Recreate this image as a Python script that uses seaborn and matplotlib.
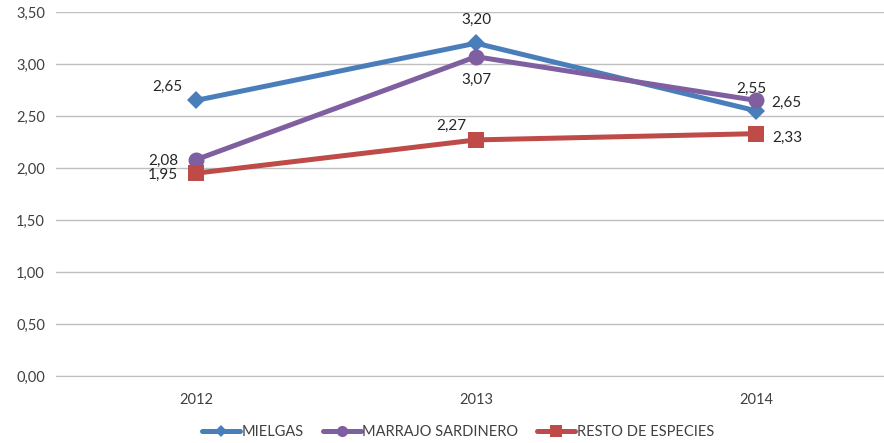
import matplotlib
matplotlib.use("Agg")
import matplotlib.pyplot as plt
import seaborn as sns
import pandas as pd
from matplotlib.ticker import FuncFormatter, MultipleLocator
from matplotlib.lines import Line2D

years = ["2012", "2013", "2014"]
mielgas = [2.65, 3.20, 2.55]
marrajo = [2.08, 3.07, 2.65]
resto = [1.95, 2.27, 2.33]
series_names = ["MIELGAS", "MARRAJO SARDINERO", "RESTO DE ESPECIES"]

df = pd.DataFrame({
    "year": years * 3,
    "value": mielgas + marrajo + resto,
    "series": [series_names[0]] * 3 + [series_names[1]] * 3 + [series_names[2]] * 3,
})

sns.set_style("white")
plt.rcParams["font.family"] = ["Lato", "DejaVu Sans"]

colors = {"MIELGAS": "#4A7EBB", "MARRAJO SARDINERO": "#7F5FA0", "RESTO DE ESPECIES": "#BE4B48"}
markers = {"MIELGAS": "D", "MARRAJO SARDINERO": "o", "RESTO DE ESPECIES": "s"}
msizes = {"MIELGAS": 9.5, "MARRAJO SARDINERO": 11.5, "RESTO DE ESPECIES": 12}

fig = plt.figure(figsize=(8.84, 4.43), dpi=100)
ax = fig.add_axes([56 / 884, (443 - 376) / 443, (884 - 56) / 884, (376 - 12) / 443])

sns.lineplot(data=df, x="year", y="value", hue="series", style="series",
             palette=colors, markers=markers, dashes=False, linewidth=3.6,
             markeredgewidth=0, ax=ax, sort=False, legend=False)
for i, line in enumerate(ax.lines[:3]):
    line.set_markersize(msizes[series_names[i]])

ax.set_xlim(-0.5, 2.457)
ax.set_ylim(0, 3.5)
ax.yaxis.set_major_locator(MultipleLocator(0.5))
ax.yaxis.set_major_formatter(FuncFormatter(lambda v, p: f"{v:.2f}".replace(".", ",")))
ax.grid(axis="y", color="#BFBFBF", linewidth=1)
ax.set_axisbelow(True)
for s in ["top", "right", "left"]:
    ax.spines[s].set_visible(False)
ax.spines["bottom"].set_color("#BFBFBF")
ax.set_xlabel("")
ax.set_ylabel("")
ax.tick_params(axis="both", length=0, labelsize=10.5, colors="#404040", pad=8)
ax.tick_params(axis="x", pad=12)

def fmt(v):
    return f"{v:.2f}".replace(".", ",")

offsets = {
    "MIELGAS": [(-29, 14), (0, 23), (-5, 22)],
    "MARRAJO SARDINERO": [(-33, -1), (0, -23), (30, -2)],
    "RESTO DE ESPECIES": [(-33, -2), (-25, 14), (31, -4)],
}
vals = {"MIELGAS": mielgas, "MARRAJO SARDINERO": marrajo, "RESTO DE ESPECIES": resto}
for name in series_names:
    for i, v in enumerate(vals[name]):
        dx, dy = offsets[name][i]
        ax.annotate(fmt(v), (i, v), xytext=(dx, dy), textcoords="offset pixels",
                    ha="center", va="center", fontsize=11, color="#262626")

leg_ms = {"MIELGAS": 6.5, "MARRAJO SARDINERO": 8, "RESTO DE ESPECIES": 8}
handles = [Line2D([], [], color=colors[n], marker=markers[n], markersize=leg_ms[n],
                  markeredgewidth=0, linewidth=3.6) for n in series_names]
leg = ax.legend(handles, series_names, loc="center", bbox_to_anchor=(458 / 884, 11 / 443),
                bbox_transform=fig.transFigure, ncol=3, frameon=False, fontsize=10.5,
                handlelength=2.6, handletextpad=0.1, columnspacing=1.3)
for t in leg.get_texts():
    t.set_color("#404040")

fig.savefig("out.png", dpi=100)
